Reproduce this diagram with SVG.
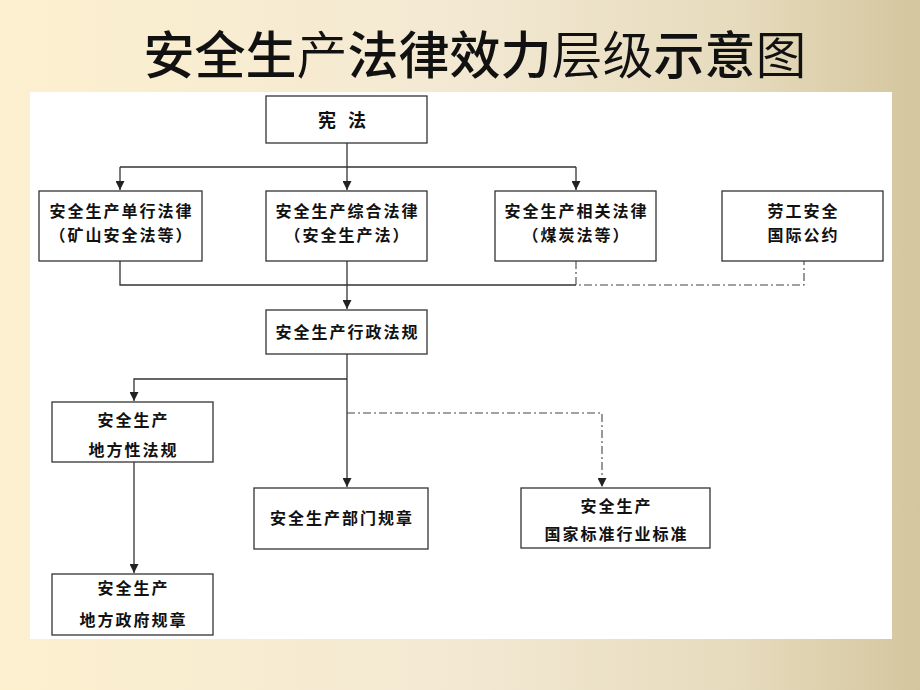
<svg xmlns="http://www.w3.org/2000/svg" width="920" height="690" viewBox="0 0 920 690">
  <defs>
    <linearGradient id="bg" x1="0" y1="0" x2="1" y2="0">
      <stop offset="0" stop-color="#fdf0cf"/>
      <stop offset="0.5" stop-color="#f3e9d3"/>
      <stop offset="0.8" stop-color="#e6dbbd"/>
      <stop offset="1" stop-color="#d4c69e"/>
    </linearGradient>
    <marker id="arr" viewBox="0 0 10 10" refX="10" refY="5" markerWidth="10" markerHeight="9" markerUnits="userSpaceOnUse" orient="auto">
      <path d="M0,0 L10,5 L0,10 Z" fill="#222"/>
    </marker>
    <style>
      .box { fill: #ffffff; stroke: #333333; stroke-width: 1.3; }
      .t { font-family: "Noto Sans CJK SC", "Noto Sans", sans-serif; font-size: 16px; font-weight: 700; fill: #111111; text-anchor: middle; letter-spacing: 2px; }
      .big { font-size: 18px; letter-spacing: 0; }
      .ln { fill: none; stroke: #333333; stroke-width: 1.3; }
      .dd { fill: none; stroke: #444444; stroke-width: 1.1; stroke-dasharray: 8 3 2 3; }
      .title { font-family: "Noto Sans CJK SC", "Noto Sans", sans-serif; font-size: 51px; fill: #111111; text-anchor: middle; }
      .b { font-weight: 500; }
      .n { font-weight: 350; }
    </style>
  </defs>

  <rect x="0" y="0" width="920" height="690" fill="url(#bg)"/>
  <rect x="30" y="92" width="862" height="547" fill="#ffffff"/>

  <text class="title" x="475" y="74"><tspan class="b">安全生</tspan><tspan class="n">产</tspan><tspan class="b">法律效力</tspan><tspan class="n">层级</tspan><tspan class="b">示意</tspan><tspan class="n">图</tspan></text>

  <g id="connectors">
    <path class="ln" d="M347,143 V167"/>
    <path class="ln" d="M120,167 H576"/>
    <path class="ln" d="M120,167 V190" marker-end="url(#arr)"/>
    <path class="ln" d="M347,167 V190" marker-end="url(#arr)"/>
    <path class="ln" d="M576,167 V190" marker-end="url(#arr)"/>
    <path class="ln" d="M120,261 V285 H576"/>
    <path class="ln" d="M347,261 V309" marker-end="url(#arr)"/>
    <path class="dd" d="M576,261 V285 H804 V261"/>
    <path class="ln" d="M347,354 V487" marker-end="url(#arr)"/>
    <path class="ln" d="M347,379 H134 V401" marker-end="url(#arr)"/>
    <path class="dd" d="M347,413 H602 V487" marker-end="url(#arr)"/>
    <path class="ln" d="M134,462 V573" marker-end="url(#arr)"/>
  </g>

  <g id="n-xianfa">
    <rect class="box" x="266" y="96" width="161" height="47"/>
    <text class="t big" y="127"><tspan x="327">宪</tspan><tspan x="357">法</tspan></text>
  </g>
  <g id="n-danxing">
    <rect class="box" x="39" y="191" width="163" height="70"/>
    <text class="t" x="121.5" y="217">安全生产单行法律</text>
    <text class="t" x="121.5" y="241">（矿山安全法等）</text>
  </g>
  <g id="n-zonghe">
    <rect class="box" x="266" y="191" width="161" height="70"/>
    <text class="t" x="347.5" y="217">安全生产综合法律</text>
    <text class="t" x="347.5" y="241">（安全生产法）</text>
  </g>
  <g id="n-xiangguan">
    <rect class="box" x="495" y="191" width="161" height="70"/>
    <text class="t" x="576.5" y="217">安全生产相关法律</text>
    <text class="t" x="576.5" y="241">（煤炭法等）</text>
  </g>
  <g id="n-laogong">
    <rect class="box" x="722" y="191" width="161" height="70"/>
    <text class="t" x="803.5" y="217">劳工安全</text>
    <text class="t" x="803.5" y="241">国际公约</text>
  </g>
  <g id="n-xingzheng">
    <rect class="box" x="266" y="310" width="161" height="44"/>
    <text class="t" x="347.5" y="338">安全生产行政法规</text>
  </g>
  <g id="n-difangxing">
    <rect class="box" x="52" y="402" width="161" height="60"/>
    <text class="t" x="133.5" y="426">安全生产</text>
    <text class="t" x="133.5" y="456">地方性法规</text>
  </g>
  <g id="n-bumen">
    <rect class="box" x="254" y="488" width="174" height="61"/>
    <text class="t" x="342" y="524">安全生产部门规章</text>
  </g>
  <g id="n-guojia">
    <rect class="box" x="521" y="488" width="189" height="60"/>
    <text class="t" x="616.5" y="512">安全生产</text>
    <text class="t" x="616.5" y="540">国家标准行业标准</text>
  </g>
  <g id="n-difangzhengfu">
    <rect class="box" x="52" y="574" width="161" height="61"/>
    <text class="t" x="133.5" y="594">安全生产</text>
    <text class="t" x="133.5" y="626">地方政府规章</text>
  </g>
</svg>
